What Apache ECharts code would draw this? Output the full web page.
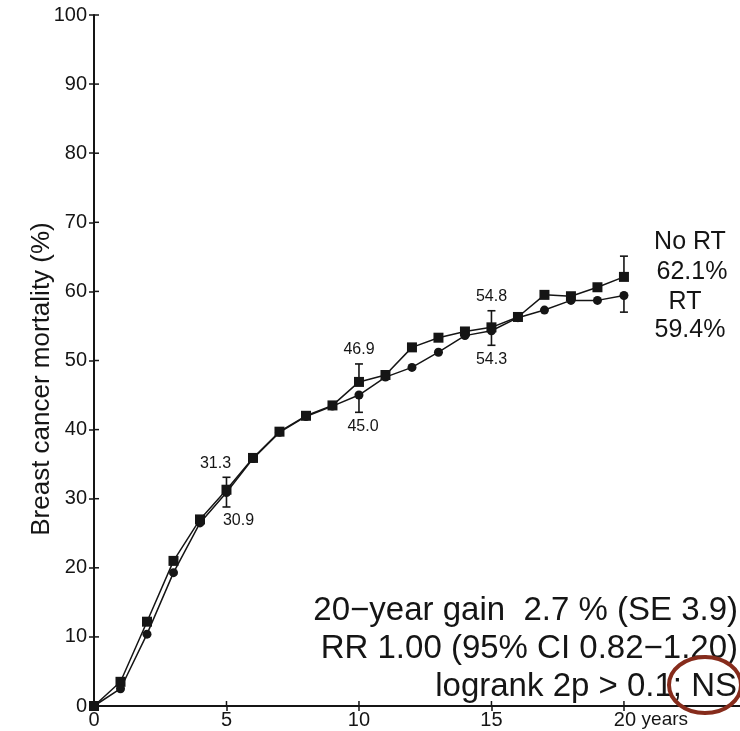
<!DOCTYPE html>
<html>
<head>
<meta charset="utf-8">
<script src="https://cdn.jsdelivr.net/npm/echarts@6/dist/echarts.min.js"></script>
<style>
  html, body { margin: 0; padding: 0; background: #fff; }
  #chart { width: 740px; height: 731px; }
</style>
</head>
<body>
<div id="chart"></div>
<script>
// Years of follow-up
const years = [0, 1, 2, 3, 4, 5, 6, 7, 8, 9, 10, 11, 12, 13, 14, 15, 16, 17, 18, 19, 20];
// Cumulative breast cancer mortality (%), no radiotherapy
const noRT = [0, 3.5, 12.2, 21.0, 27.0, 31.3, 35.9, 39.7, 42.0, 43.5, 46.9, 47.9, 51.9, 53.3, 54.2, 54.8, 56.3, 59.5, 59.3, 60.6, 62.1];
// Cumulative breast cancer mortality (%), radiotherapy
const rt = [0, 2.5, 10.4, 19.3, 26.5, 30.9, 35.8, 39.6, 41.9, 43.4, 45.0, 47.6, 49.0, 51.2, 53.6, 54.3, 56.2, 57.3, 58.7, 58.7, 59.4];
// Error bars (+1 SE on the no-RT curve, -1 SE on the RT curve)
const barYears = [5, 10, 15, 20];
const noRTUpper = [33.1, 49.5, 57.2, 65.1];
const rtLower = [28.8, 42.5, 52.2, 57.0];
// Years whose values are printed beside the bars
const labelYears = [5, 10, 15];
// Axis ticks
const yTicks = [0, 10, 20, 30, 40, 50, 60, 70, 80, 90, 100];
const xTicks = [0, 5, 10, 15, 20];
// Summary statistics
const noteLines = ['20\u2212year gain  2.7 % (SE 3.9)', 'RR 1.00 (95% CI 0.82\u22121.20)', 'logrank 2p > 0.1; NS'];

const FONT = "'Liberation Sans', Arial, Helvetica, sans-serif";
const INK = '#151515';
const X_MAX = 24.38;
const TICK = 5;
const TICK_IN = 5;

// horizontal nudges of the printed values (above-label, below-label)
const labelNudge = { 5: [-11, 12], 10: [0, 4], 15: [0, 0] };

const chart = echarts.init(document.getElementById('chart'), null, { renderer: 'canvas' });

const xAxis = {
  type: 'value', min: 0, max: X_MAX, interval: 5,
  splitLine: { show: false },
  axisLine: { show: true, onZero: false, lineStyle: { color: INK, width: 2 } },
  axisTick: { show: true, length: TICK, customValues: xTicks, lineStyle: { color: INK, width: 1.5 } },
  axisLabel: {
    customValues: xTicks, margin: 4,
    color: INK, fontFamily: FONT, fontSize: 20,
    formatter: v => v === 20 ? '{pad| }20 {u|years}' : String(v),
    rich: { pad: { width: 54 }, u: { fontFamily: FONT, fontSize: 19, color: INK } }
  }
};
const yAxis = {
  type: 'value', min: 0, max: 100, interval: 10,
  splitLine: { show: false },
  axisLine: { show: true, onZero: false, lineStyle: { color: INK, width: 2 } },
  axisTick: { show: true, length: TICK, customValues: yTicks, lineStyle: { color: INK, width: 1.5 } },
  axisLabel: { customValues: yTicks, margin: 7, color: INK, fontFamily: FONT, fontSize: 20 }
};

// inner halves of the axis ticks, so each tick crosses its axis line
const innerTickData = yTicks.map(v => [0, v, 0]).concat(xTicks.map(v => [v, 0, 1]));
function renderInnerTick(params, api) {
  const p = api.coord([api.value(0), api.value(1)]);
  const isX = api.value(2) === 1;
  return {
    type: 'line',
    shape: isX ? { x1: p[0], y1: p[1], x2: p[0], y2: p[1] - TICK_IN } : { x1: p[0], y1: p[1], x2: p[0] + TICK_IN, y2: p[1] },
    style: { stroke: INK, lineWidth: 1.5 }
  };
}

const errData = barYears.map((y, i) => {
  const k = years.indexOf(y);
  return [y, noRT[k], noRTUpper[i], rt[k], rtLower[i]];
});

function renderErr(params, api) {
  const x = api.value(0);
  const a = api.coord([x, api.value(1)]);
  const top = api.coord([x, api.value(2)]);
  const b = api.coord([x, api.value(3)]);
  const bot = api.coord([x, api.value(4)]);
  const cap = 4;
  const ls = { stroke: INK, lineWidth: 1.6 };
  const children = [
    { type: 'line', shape: { x1: a[0], y1: a[1], x2: top[0], y2: top[1] }, style: ls },
    { type: 'line', shape: { x1: top[0] - cap, y1: top[1], x2: top[0] + cap, y2: top[1] }, style: ls },
    { type: 'line', shape: { x1: b[0], y1: b[1], x2: bot[0], y2: bot[1] }, style: ls },
    { type: 'line', shape: { x1: bot[0] - cap, y1: bot[1], x2: bot[0] + cap, y2: bot[1] }, style: ls }
  ];
  if (labelYears.indexOf(x) >= 0) {
    const nd = labelNudge[x] || [0, 0];
    children.push({
      type: 'text',
      style: { text: api.value(1).toFixed(1), x: top[0] + nd[0], y: top[1] - 14, font: '16px ' + FONT, fill: INK, align: 'center', verticalAlign: 'middle', textAlign: 'center', textVerticalAlign: 'middle' }
    });
    children.push({
      type: 'text',
      style: { text: api.value(3).toFixed(1), x: bot[0] + nd[1], y: bot[1] + 14, font: '16px ' + FONT, fill: INK, align: 'center', verticalAlign: 'middle', textAlign: 'center', textVerticalAlign: 'middle' }
    });
  }
  return { type: 'group', children };
}

function txt(text, x, y, size, align, extra) {
  return Object.assign({
    type: 'text', x, y, z: 10,
    style: { text, font: size + 'px ' + FONT, fill: INK, align: align, verticalAlign: 'middle', textAlign: align, textVerticalAlign: 'middle' }
  }, extra || {});
}

const graphics = [
  txt('Breast cancer mortality (%)', 42, 379, 26, 'center', { rotation: Math.PI / 2 }),
  txt('No RT', 690, 242, 25, 'center'),
  txt(noRT[noRT.length - 1].toFixed(1) + '%', 692, 272, 25, 'center'),
  txt('RT', 685, 302, 25, 'center'),
  txt(rt[rt.length - 1].toFixed(1) + '%', 690, 330, 25, 'center'),
  txt(noteLines[0], 738, 611, 33, 'right'),
  txt(noteLines[1], 738, 649, 33, 'right'),
  txt(noteLines[2], 737, 687, 33, 'right'),
  {
    type: 'ellipse', z: 20,
    shape: { cx: 705, cy: 685, rx: 36, ry: 28 },
    style: { fill: null, stroke: '#862c1c', lineWidth: 4 }
  }
];

chart.setOption({
  animation: false,
  backgroundColor: '#fff',
  grid: { left: 94, right: 0, top: 15, bottom: 25 },
  xAxis: xAxis,
  yAxis: yAxis,
  series: [
    {
      name: 'No RT', type: 'line',
      data: years.map((y, i) => [y, noRT[i]]),
      symbol: 'rect', symbolSize: 10, showAllSymbol: true,
      lineStyle: { color: INK, width: 1.5 }, itemStyle: { color: INK }, z: 3
    },
    {
      name: 'RT', type: 'line',
      data: years.map((y, i) => [y, rt[i]]),
      symbol: 'circle', symbolSize: 9, showAllSymbol: true,
      lineStyle: { color: INK, width: 1.5 }, itemStyle: { color: INK }, z: 3
    },
    {
      name: 'SE', type: 'custom',
      data: errData, renderItem: renderErr, z: 2
    },
    {
      name: 'ticks', type: 'custom', silent: true, clip: false,
      data: innerTickData, renderItem: renderInnerTick, z: 1
    }
  ],
  graphic: graphics
});
</script>
</body>
</html>
